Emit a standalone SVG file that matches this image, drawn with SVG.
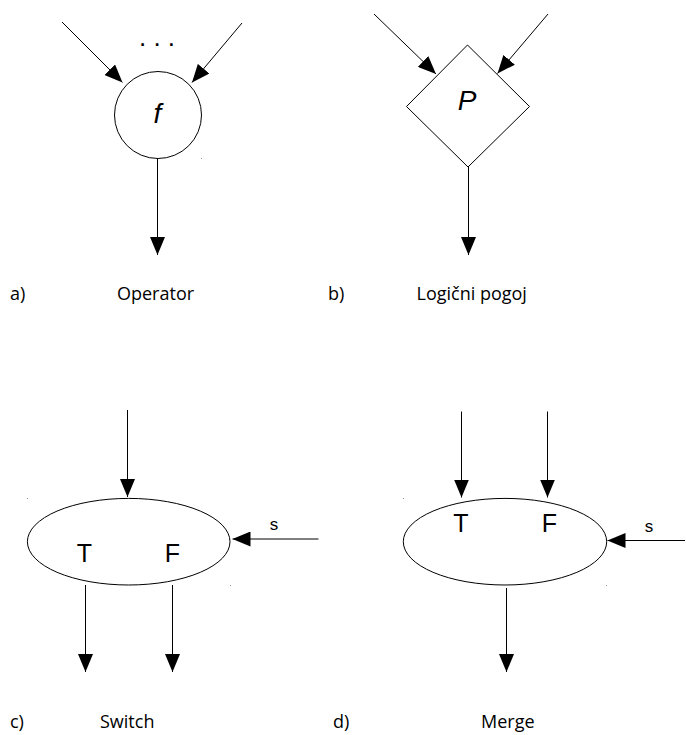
<svg xmlns="http://www.w3.org/2000/svg" width="686" height="735" viewBox="0 0 686 735">
  <style>
    .shape { fill: #ffffff; stroke: #000000; stroke-width: 1; }
    .edge { fill: none; stroke: #000000; stroke-width: 1; marker-end: url(#head); }
    .sym { font-family: "Liberation Sans", Arial, sans-serif; fill: #000000; text-anchor: middle; }
    .big { font-size: 28px; font-style: italic; }
    .tf { font-size: 25px; }
    .sig { font-size: 17px; }
    .cap { font-family: "Open Sans", "Noto Sans", sans-serif; font-size: 18px; fill: #000000; }
    .speck { fill: #9a9a9a; }
  </style>
  <defs>
    <marker id="head" markerUnits="userSpaceOnUse" markerWidth="18" markerHeight="15" refX="18" refY="7.5" orient="auto">
      <path d="M0,0 L18,7.5 L0,15 Z" fill="#000000"/>
    </marker>
  </defs>

  <rect width="686" height="735" fill="#ffffff"/>

  <!-- a) operator -->
  <g id="node-operator">
    <circle class="shape" cx="158" cy="115" r="43.5"/>
    <text class="sym big" x="157.5" y="123" font-size="25">f</text>
  </g>
  <text class="sym" x="157" y="46" font-size="26">. . .</text>

  <!-- b) logical predicate -->
  <g id="node-pogoj">
    <polygon class="shape" points="467.5,45 529.5,106.5 468,167 406.5,106.5"/>
    <text class="sym big" x="467" y="110">P</text>
  </g>

  <!-- c) switch -->
  <g id="node-switch">
    <ellipse class="shape" cx="128.7" cy="541.7" rx="101.3" ry="43.3"/>
    <text class="sym tf" x="84.5" y="561.5">T</text>
    <text class="sym tf" x="172.5" y="561.5">F</text>
  </g>

  <!-- d) merge -->
  <g id="node-merge">
    <ellipse class="shape" cx="505" cy="541.7" rx="101.7" ry="43.3"/>
    <text class="sym tf" x="461" y="531.5">T</text>
    <text class="sym tf" x="549.5" y="531.5">F</text>
  </g>

  <g id="connectors">
    <!-- operator -->
    <line class="edge" x1="62" y1="22" x2="122.5" y2="82.5"/>
    <line class="edge" x1="242" y1="23" x2="192" y2="82.5"/>
    <line class="edge" x1="157.5" y1="159" x2="157.5" y2="255"/>
    <!-- predicate -->
    <line class="edge" x1="374" y1="14" x2="436" y2="74"/>
    <line class="edge" x1="548" y1="14" x2="497.5" y2="73.5"/>
    <line class="edge" x1="468.5" y1="167" x2="468.5" y2="255"/>
    <!-- switch -->
    <line class="edge" x1="127.5" y1="410" x2="127.5" y2="497"/>
    <line class="edge" x1="318.5" y1="539" x2="232.5" y2="539"/>
    <line class="edge" x1="85.5" y1="585" x2="85.5" y2="672"/>
    <line class="edge" x1="172.5" y1="585" x2="172.5" y2="672"/>
    <!-- merge -->
    <line class="edge" x1="461.5" y1="411.5" x2="461.5" y2="497.5"/>
    <line class="edge" x1="547.5" y1="411.5" x2="547.5" y2="497.5"/>
    <line class="edge" x1="685" y1="540.5" x2="607.5" y2="540.5"/>
    <line class="edge" x1="506.5" y1="588" x2="506.5" y2="672"/>
  </g>

  <g id="signals">
    <text class="sym sig" x="274" y="530">s</text>
    <text class="sym sig" x="649" y="531.5">s</text>
  </g>

  <g id="captions">
    <text class="cap" x="10" y="300">a)</text>
    <text class="cap" x="117" y="300">Operator</text>
    <text class="cap" x="328" y="300">b)</text>
    <text class="cap" x="416.5" y="300">Logični pogoj</text>
    <text class="cap" x="10" y="728">c)</text>
    <text class="cap" x="100" y="728">Switch</text>
    <text class="cap" x="333" y="728">d)</text>
    <text class="cap" x="481" y="728">Merge</text>
  </g>

  <!-- leftover anchor specks -->
  <g id="specks">
    <rect class="speck" x="201" y="158" width="1" height="1"/>
    <rect class="speck" x="27" y="498" width="1" height="1"/>
    <rect class="speck" x="230" y="585" width="1" height="1"/>
    <rect class="speck" x="403" y="498" width="1" height="1"/>
    <rect class="speck" x="606" y="585" width="1" height="1"/>
  </g>
</svg>
